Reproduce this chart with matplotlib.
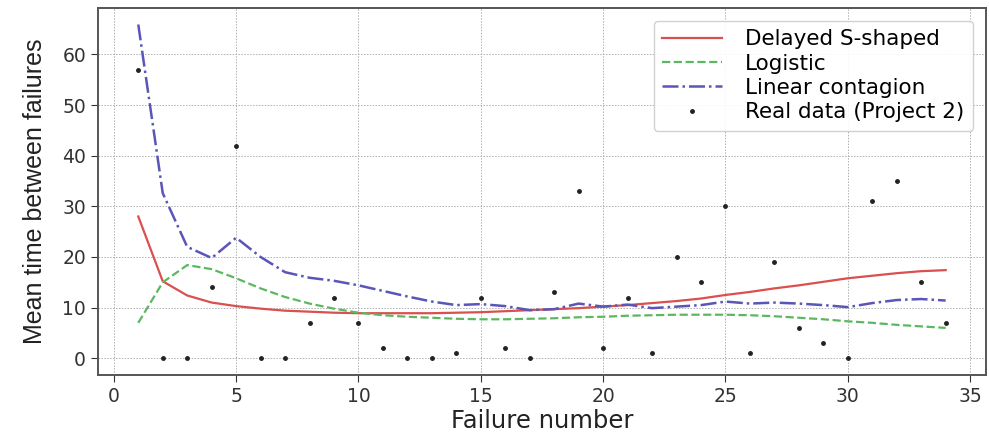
import matplotlib
matplotlib.use('Agg')
import matplotlib.pyplot as plt

# failure index
failure_no = list(range(1, 35))

# real data (Project 2)
real_data = [57, 0, 0, 14, 42, 0, 0, 7, 12, 7,
             2, 0, 0, 1, 12, 2, 0, 13, 33, 2,
             12, 1, 20, 15, 30, 1, 19, 6, 3, 0,
             31, 35, 15, 7]

# model curves
delayed_s = [28.0, 15.2, 12.4, 11.0, 10.3, 9.8, 9.4, 9.2, 9.0, 8.9,
             8.9, 8.9, 8.9, 9.0, 9.1, 9.3, 9.5, 9.7, 9.9, 10.2,
             10.5, 10.9, 11.3, 11.8, 12.5, 13.1, 13.8, 14.4, 15.1, 15.8,
             16.3, 16.8, 17.2, 17.4]

logistic = [7.0, 15.0, 18.4, 17.6, 15.8, 13.8, 12.1, 10.8, 9.8, 9.0,
            8.5, 8.2, 8.0, 7.8, 7.7, 7.7, 7.8, 7.9, 8.1, 8.2,
            8.4, 8.5, 8.6, 8.6, 8.6, 8.5, 8.3, 8.0, 7.7, 7.3,
            7.0, 6.6, 6.3, 6.0]

linear_contagion = [65.9, 32.6, 22.0, 19.8, 23.8, 20.0, 17.0, 15.9, 15.3, 14.4,
                    13.3, 12.2, 11.2, 10.5, 10.7, 10.3, 9.5, 9.7, 10.8, 10.2,
                    10.6, 9.9, 10.2, 10.5, 11.2, 10.8, 11.0, 10.8, 10.5, 10.1,
                    10.9, 11.5, 11.7, 11.4]


def main():
    fig = plt.figure(figsize=(9.89, 4.34), dpi=100)
    ax = fig.add_subplot(111)
    fig.subplots_adjust(left=0.099, right=0.997, top=0.982, bottom=0.136)

    ax.plot(failure_no, delayed_s, color='#d9504f', lw=1.6, label='Delayed S-shaped')
    ax.plot(failure_no, logistic, color='#5cb860', lw=1.6, ls='--', label='Logistic')
    ax.plot(failure_no, linear_contagion, color='#5a55b8', lw=1.8, ls='-.', label='Linear contagion')
    ax.plot(failure_no, real_data, '.', color='#222222', markersize=5, label='Real data (Project 2)')

    ax.grid(True, linestyle=(0, (1.5, 1.5)), linewidth=0.7, color='#b0b0b0')
    for s in ax.spines.values():
        s.set_color('#555555')
        s.set_linewidth(1.4)
    ax.tick_params(labelsize=13.5, colors='#333333', length=5)
    ax.set_yticks([0, 10, 20, 30, 40, 50, 60])

    ax.set_xlabel('Failure number', fontsize=17.5, color='#222222', labelpad=2)
    ax.set_ylabel('Mean time between failures', fontsize=18, color='#222222',
                  family=['Liberation Sans'], labelpad=11)

    ax.legend(loc='upper right', fontsize=15.5, handlelength=2.75, framealpha=0.9,
              edgecolor='#cccccc', borderaxespad=0.6, handletextpad=1.1,
              labelspacing=0.2)

    fig.savefig('out.png', dpi=100)


if __name__ == '__main__':
    main()
